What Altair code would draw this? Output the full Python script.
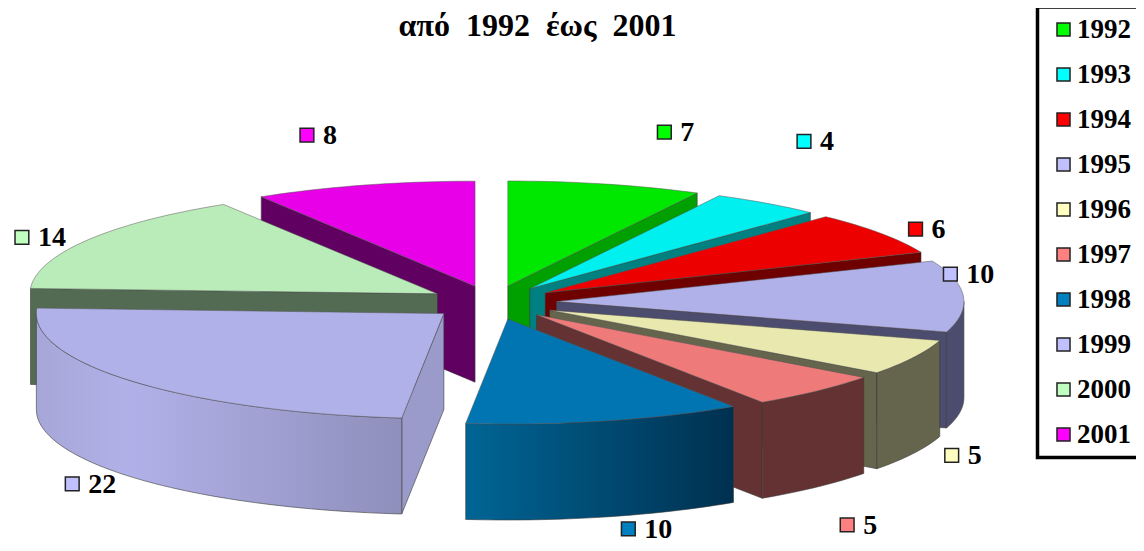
import math
import altair as alt
import pandas as pd

# ---- data ----
YEARS = ["1992", "1993", "1994", "1995", "1996", "1997", "1998", "1999", "2000", "2001"]
COUNTS = [7, 4, 6, 10, 5, 5, 10, 22, 14, 8]
LEGEND_COLORS = ["#00ff00", "#00ffff", "#ff0000", "#c0c0ff", "#ffffc0",
                 "#ff8080", "#0080c0", "#c0c0ff", "#c0ffc0", "#ff00ff"]
TOP_COLORS = ["#00e800", "#00f0f0", "#ec0000", "#b1b1e9", "#e9e9af",
              "#ee7a7a", "#0075b2", "#b1b1e9", "#b9ecb9", "#e800e8"]
SIDE_COLORS = ["#00a000", "#008080", "#6e0000", "#4c4c6e", "#65654e",
               "#643232", "#005f8a", "#9a9acb", "#536b53", "#600060"]
TITLE = "από\u00a0\u00a01992\u00a0\u00a0έως\u00a0\u00a02001"

# ---- drawing layout ----
W, H = 1128, 535
OX, OY = 8, 8              # page margin
CX, CY = 492.5, 302.5      # pie centre in picture pixels
RX, RY = 407.5, 105
EX, EY = 64, 17            # explosion of each slice
DEPTH = 96
SERIF = "Liberation Serif"
# label marker offset from the exploded rim point at each slice's mid angle
LABEL_OFFSET = [(59, -52), (37, -62), (35, -4), (-13, -22), (38, 98),
                (30, 134), (23, 108), (-62, 102), (-65, -3), (-57, -50)]


def rim(tip, a):
    return tip[0] + RX * math.sin(a), tip[1] - RY * math.cos(a)


x_enc = alt.X("x:Q", scale=alt.Scale(domain=[0, W], range=[0, W]), axis=None)
y_enc = alt.Y("y:Q", scale=alt.Scale(domain=[0, H], range=[0, H]), axis=None)


def poly(pts, fill, line="#3a3a3a", sw=0.6):
    pts = list(pts) + [pts[0]]
    df = pd.DataFrame({"x": [p[0] - OX for p in pts], "y": [p[1] - OY for p in pts],
                       "i": range(len(pts))})
    return alt.Chart(df).mark_line(fill=fill, stroke=line, strokeWidth=sw, clip=False).encode(
        x=x_enc, y=y_enc, order=alt.Order("i:Q"))


def wall_fill(k):
    if YEARS[k] == "1999":
        return alt.Gradient(gradient="linear", x1=0, x2=1, y1=0, y2=0, stops=[
            alt.GradientStop(color="#a6a6d8", offset=0),
            alt.GradientStop(color="#b1b1e9", offset=0.25),
            alt.GradientStop(color="#8f8fbc", offset=1)])
    if YEARS[k] == "1998":
        return alt.Gradient(gradient="linear", x1=0, x2=1, y1=0, y2=0, stops=[
            alt.GradientStop(color="#006595", offset=0),
            alt.GradientStop(color="#003050", offset=1)])
    return SIDE_COLORS[k]


total = sum(COUNTS)
cum = [sum(COUNTS[:i]) for i in range(len(COUNTS))]
slices = []
label_x, label_y = [], []
for k, c in enumerate(COUNTS):
    a0 = cum[k] / total * 2 * math.pi
    a1 = (cum[k] + c) / total * 2 * math.pi
    mid = (a0 + a1) / 2
    tip = (CX + EX * math.sin(mid), CY - EY * math.cos(mid))
    slices.append((math.cos(mid), k, a0, a1, mid, tip))
    r = rim(tip, mid)
    label_x.append(r[0] + LABEL_OFFSET[k][0] - OX)
    label_y.append(r[1] + LABEL_OFFSET[k][1] - OY)

layers = []
for _, k, a0, a1, mid, tip in sorted(slices, key=lambda s: -s[0]):
    n = max(3, int((a1 - a0) * 40))
    arc = [rim(tip, a0 + (a1 - a0) * i / n) for i in range(n + 1)]
    side = SIDE_COLORS[k]
    # cut faces
    for a, vis in ((a0, math.sin(a0) < -1e-6), (a1, math.sin(a1) > 1e-6)):
        if vis:
            p = rim(tip, a)
            layers.append(poly([tip, p, (p[0], p[1] + DEPTH), (tip[0], tip[1] + DEPTH)], side))
    # outer wall
    b0, b1 = max(a0, math.pi / 2), min(a1, 3 * math.pi / 2)
    if b1 > b0:
        m = max(3, int((b1 - b0) * 40))
        w = [rim(tip, b0 + (b1 - b0) * i / m) for i in range(m + 1)]
        layers.append(poly(w + [(q[0], q[1] + DEPTH) for q in reversed(w)], wall_fill(k)))
    layers.append(poly([tip] + arc, TOP_COLORS[k], line="#555555", sw=0.5))

# legend frame
frame = poly([(1037.5, 7), (1160, 7), (1160, 457.5), (1037.5, 457.5)],
             "transparent", line="black", sw=3.5)

lab = pd.DataFrame({"year": YEARS, "count": COUNTS, "x": label_x, "y": label_y})
color = alt.Color("year:N",
                  scale=alt.Scale(domain=YEARS, range=LEGEND_COLORS),
                  legend=alt.Legend(title=None, orient="none", legendX=1042, legendY=8,
                                    symbolType="square", symbolSize=170, symbolStrokeWidth=1.5,
                                    symbolStrokeColor="#222222", labelFont=SERIF, labelFontSize=27,
                                    labelFontWeight="bold", labelColor="black", labelOffset=0,
                                    rowPadding=17, padding=0))
markers = alt.Chart(lab).mark_square(size=190, opacity=1, stroke="#222222", strokeWidth=1.5).encode(
    x=x_enc, y=y_enc, color=color)
values = alt.Chart(lab).mark_text(font=SERIF, fontSize=28, fontWeight="bold", align="left",
                                  baseline="middle", dx=16, dy=1, color="black").encode(
    x=x_enc, y=y_enc, text="count:Q")

title_df = pd.DataFrame({"x": [537.5 - OX], "y": [26 - OY], "t": [TITLE]})
title = alt.Chart(title_df).mark_text(font=SERIF, fontSize=32, fontWeight="bold", align="center",
                                      baseline="middle", color="black").encode(
    x=x_enc, y=y_enc, text="t:N")

chart = alt.layer(*layers, frame, markers, values, title).properties(
    width=W, height=H, padding=0, autosize=alt.AutoSizeParams(type="none")
).configure_view(stroke=None)

chart.save("out.html", embed_options={"renderer": "svg", "actions": False})
